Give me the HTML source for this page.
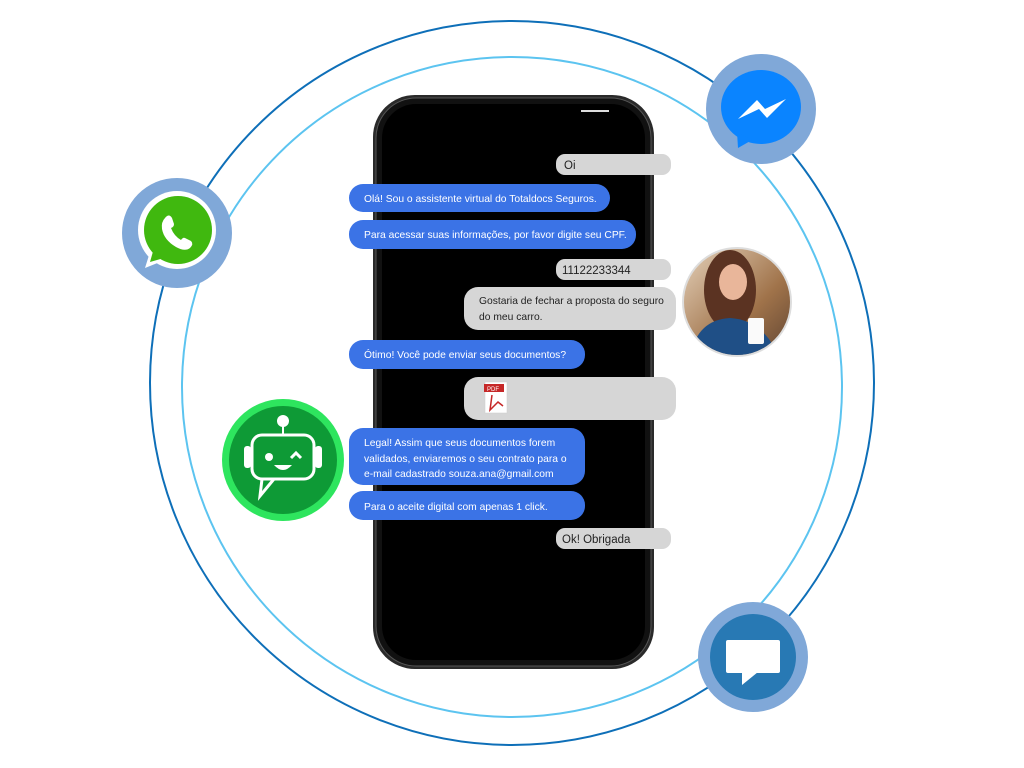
<!DOCTYPE html>
<html><head><meta charset="utf-8"><style>
html,body{margin:0;padding:0;background:#fff;}
svg{display:block}
text{font-family:"Liberation Sans",sans-serif;font-size:10.3px}
</style></head><body>
<svg width="1024" height="768" viewBox="0 0 1024 768">
<circle cx="512" cy="383" r="362" fill="none" stroke="#0e6fb8" stroke-width="2"/>
<circle cx="512" cy="387" r="330" fill="none" stroke="#5cc4f0" stroke-width="2"/>
<!-- phone -->
<rect x="373" y="95" width="281" height="574" rx="42" fill="#2a2a2a"/>
<rect x="376" y="98" width="275" height="568" rx="40" fill="#111" stroke="#555" stroke-width="1"/>
<rect x="382" y="104" width="263" height="556" rx="34" fill="#000"/>
<rect x="581" y="110" width="28" height="2" fill="#ddd"/>
<!-- bubbles -->
<g fill="#d6d6d6">
<rect x="556" y="154" width="115" height="21" rx="9"/>
<rect x="556" y="259" width="115" height="21" rx="9"/>
<rect x="464" y="287" width="212" height="43" rx="14"/>
<rect x="464" y="377" width="212" height="43" rx="14"/>
<rect x="556" y="528" width="115" height="21" rx="9"/>
</g>
<g fill="#3b73e6">
<rect x="349" y="184" width="261" height="28" rx="14"/>
<rect x="349" y="220" width="287" height="29" rx="14"/>
<rect x="349" y="340" width="236" height="29" rx="14"/>
<rect x="349" y="428" width="236" height="57" rx="14"/>
<rect x="349" y="491" width="236" height="29" rx="14"/>
</g>
<g fill="#222">
<text x="564" y="169" style="font-size:11.5px">Oi</text>
<text x="562" y="274" style="font-size:11.5px">11122233344</text>
<text x="479" y="304">Gostaria de fechar a proposta do seguro</text>
<text x="479" y="320">do meu carro.</text>
<text x="562" y="543" style="font-size:11.5px">Ok! Obrigada</text>
</g>
<g fill="#fff">
<text x="364" y="202">Olá! Sou o assistente virtual do Totaldocs Seguros.</text>
<text x="364" y="238">Para acessar suas informações, por favor digite seu CPF.</text>
<text x="364" y="358">Ótimo! Você pode enviar seus documentos?</text>
<text x="364" y="446">Legal! Assim que seus documentos forem</text>
<text x="364" y="462">validados, enviaremos o seu contrato para o</text>
<text x="364" y="477">e-mail cadastrado souza.ana@gmail.com</text>
<text x="364" y="510">Para o aceite digital com apenas 1 click.</text>
</g>
<!-- pdf -->
<rect x="485" y="382" width="22" height="31" fill="#fff" stroke="#ccc" stroke-width="0.5"/>
<rect x="484" y="384" width="20" height="8" fill="#c62828"/>
<text x="487" y="391" fill="#fff" style="font-size:6px">PDF</text>
<path d="M492 395 L490 410 L498 402 L503 406" fill="none" stroke="#c62828" stroke-width="1.5"/>
<!-- whatsapp -->
<circle cx="177" cy="233" r="55" fill="#80a8d8"/>
<circle cx="177" cy="230" r="39" fill="#fff"/>
<path d="M145 268 L150 252 L160 262 Z" fill="#fff"/>
<circle cx="178" cy="230" r="34" fill="#40b80f"/>
<path d="M150 262 L154 248 L164 258 Z" fill="#40b80f"/>
<path d="M165 218 q4 -5 7 0 l2 6 q0 3 -3 4 q3 8 10 12 q2 -3 4 -2 l6 3 q3 3 -1 7 q-5 4 -14 -1 q-12 -7 -14 -18 q-1 -7 3 -11z" fill="#fff"/>
<!-- messenger -->
<circle cx="761" cy="109" r="55" fill="#80a8d8"/>
<ellipse cx="761" cy="107" rx="40" ry="37" fill="#0a84ff"/>
<path d="M737 132 L738 148 L752 140 Z" fill="#0a84ff"/>
<path d="M738 119 L757 100 L765 109 L786 99 L767 118 L759 109 Z" fill="#fff"/>
<!-- sms -->
<circle cx="753" cy="657" r="55" fill="#80a8d8"/>
<circle cx="753" cy="657" r="43" fill="#2879b4"/>
<rect x="726" y="640" width="54" height="33" rx="2" fill="#fff"/>
<path d="M742 672 L742 685 L758 672 Z" fill="#fff"/>
<!-- bot -->
<circle cx="283" cy="460" r="61" fill="#2ee55e"/>
<circle cx="283" cy="460" r="54" fill="#0e9a36"/>
<circle cx="283" cy="421" r="6" fill="#fff"/>
<rect x="282" y="425" width="2" height="10" fill="#fff"/>
<rect x="252" y="435" width="62" height="44" rx="10" fill="none" stroke="#fff" stroke-width="3"/>
<path d="M262 479 L260 496 L274 479" fill="none" stroke="#fff" stroke-width="3"/>
<rect x="244" y="446" width="7" height="22" rx="3" fill="#fff"/>
<rect x="315" y="446" width="7" height="22" rx="3" fill="#fff"/>
<circle cx="269" cy="457" r="4" fill="#fff"/>
<path d="M291 458 l5 -5 l5 5" fill="none" stroke="#fff" stroke-width="3"/>
<path d="M274 465 q9 10 18 0 z" fill="#fff"/>
<!-- woman photo -->
<defs>
<clipPath id="cp"><circle cx="737" cy="302" r="53"/></clipPath>
<linearGradient id="bg" x1="0" y1="0" x2="1" y2="1"><stop offset="0" stop-color="#e8d6c0"/><stop offset="0.6" stop-color="#a0734a"/><stop offset="1" stop-color="#5a4030"/></linearGradient>
</defs>
<circle cx="737" cy="302" r="55" fill="#ddd"/>
<g clip-path="url(#cp)">
<rect x="680" y="245" width="115" height="115" fill="url(#bg)"/>
<ellipse cx="730" cy="290" rx="26" ry="40" fill="#5b3322"/>
<ellipse cx="733" cy="282" rx="14" ry="18" fill="#e9b69a"/>
<path d="M690 360 q5 -40 40 -42 q35 2 50 42 z" fill="#1f4f86"/>
<rect x="748" y="318" width="16" height="26" rx="2" fill="#fafafa"/>
</g>
</svg>
</body></html>
